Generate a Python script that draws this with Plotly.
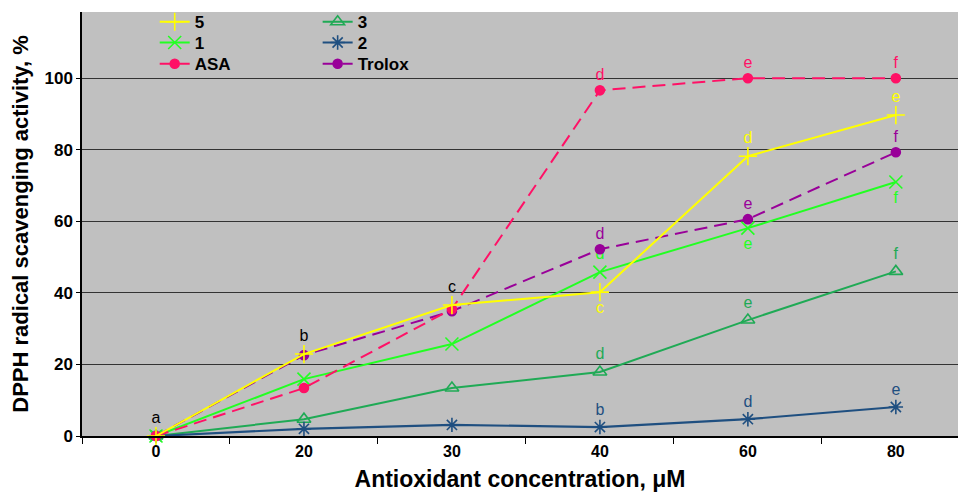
import plotly.graph_objects as go

conc = ["0", "20", "30", "40", "60", "80"]

s5 = [0, 22.9, 36.6, 40.2, 78.2, 89.7]
s1 = [0, 15.9, 25.7, 45.8, 58.1, 71.0]
asa = [0, 13.4, 35.5, 96.6, 100.0, 100.0]
s3 = [0, 4.7, 13.4, 17.9, 32.4, 46.0]
s2 = [0, 2.0, 3.1, 2.5, 4.7, 8.1]
trolox = [0, 22.6, 34.9, 52.2, 60.6, 79.3]

lab5 = ["a", "b", "c", "c", "d", "e"]
lab1 = ["", "", "", "d", "e", "f"]
lab_asa = ["", "", "", "d", "e", "f"]
lab3 = ["", "", "", "d", "e", "f"]
lab2 = ["", "", "", "b", "d", "e"]
lab_trolox = ["", "", "", "d", "e", "f"]

C5 = "#ffff00"
C1 = "#22ff22"
CASA = "#ff1166"
C3 = "#1faa55"
C2 = "#1f4f80"
CTR = "#990099"

FONT = "Liberation Sans, Arial, sans-serif"
DASH = "13px,7px"

fig = go.Figure()

def add(name, y, color, symbol, dash, labels, tpos, tcolors, legend, msize=10, lw=2):
    fig.add_trace(go.Scatter(
        x=conc, y=y, name=name, mode="lines+markers+text",
        line=dict(color=color, width=lw, dash=dash),
        marker=dict(symbol=symbol, size=msize, color=color,
                    line=dict(color=color, width=1.6)),
        text=labels, textposition=tpos,
        textfont=dict(family=FONT, size=16, color=tcolors),
        cliponaxis=False, legend=legend,
    ))

add("3", s3, C3, "triangle-up-open", "solid", lab3, "top center", C3, "legend4", msize=12)
add("2", s2, C2, "asterisk-open", "solid", lab2, "top center", C2, "legend5", msize=12, lw=2.2)
add("1", s1, C1, "x-thin-open", "solid", lab1,
    ["top center"] * 4 + ["bottom center"] * 2, C1, "legend2", msize=13)
add("Trolox", trolox, CTR, "circle", DASH, lab_trolox, "top center", CTR, "legend6", msize=9)
add("ASA", asa, CASA, "circle", DASH, lab_asa, "top center", CASA, "legend3", msize=9)
add("5", s5, C5, "cross-thin-open", "solid", lab5,
    ["top center"] * 3 + ["bottom center"] + ["top center"] * 2,
    ["black"] * 3 + [C5] * 3, "legend", msize=13)

LEGFONT = dict(size=17, family=FONT, weight="bold")
COLX = [0.083, 0.269]
ROWY = [0.976, 0.927, 0.877]

def leg(col, row):
    return dict(x=COLX[col], y=ROWY[row], xanchor="left", yanchor="middle",
                bgcolor="rgba(0,0,0,0)", font=LEGFONT, tracegroupgap=0)

fig.update_layout(
    width=958, height=495,
    margin=dict(l=82, r=0, t=12, b=59),
    paper_bgcolor="white", plot_bgcolor="#c0c0c0",
    font=dict(family=FONT, color="black"),
    showlegend=True,
    legend=leg(0, 0), legend2=leg(0, 1), legend3=leg(0, 2),
    legend4=leg(1, 0), legend5=leg(1, 1), legend6=leg(1, 2),
    xaxis=dict(type="category", range=[-0.5, 5.42], tickson="boundaries",
               ticks="outside", ticklen=6, tickcolor="black",
               showline=True, linecolor="black", linewidth=1.5,
               showgrid=False, zeroline=False, automargin=False,
               tickfont=dict(size=16, family=FONT, weight="bold"),
               title=dict(text="Antioxidant concentration, μM",
                          font=dict(size=23, family=FONT, weight="bold"),
                          standoff=12)),
    yaxis=dict(range=[0, 118.5], tickvals=[0, 20, 40, 60, 80, 100],
               ticks="outside", ticklen=4, tickcolor="black",
               showline=True, linecolor="black", linewidth=1.5,
               showgrid=True, gridcolor="#333333", gridwidth=1.3,
               zeroline=False, automargin=False,
               tickfont=dict(size=17, family=FONT, weight="bold"),
               title=dict(text="DPPH radical scavenging activity, %",
                          font=dict(size=22, family=FONT, weight="bold"),
                          standoff=10)),
)

fig.write_html("out.html", config={"displayModeBar": False},
               post_script="document.body.style.margin='0';")
